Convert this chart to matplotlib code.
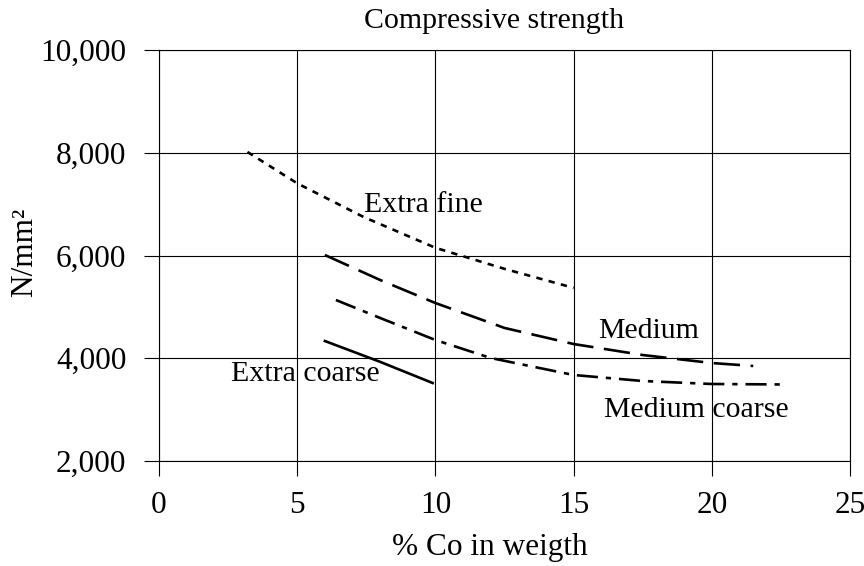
import matplotlib
matplotlib.use("Agg")
import matplotlib.pyplot as plt

plt.rcParams['font.family'] = ['Liberation Serif', 'DejaVu Serif']

# Data
xf_x = [3.2, 5.0, 7.4, 10.0, 12.5, 15.0]
xf_y = [8015, 7405, 6750, 6150, 5740, 5370]

med_x = [6.0, 8.0, 10.0, 12.5, 15.0, 17.5, 20.0, 21.5]
med_y = [6010, 5523, 5075, 4590, 4277, 4063, 3907, 3850]

mc_x = [6.4, 8.0, 10.0, 12.0, 15.0, 17.5, 20.0, 22.5]
mc_y = [5134, 4784, 4355, 4005, 3674, 3557, 3499, 3490]

xc_x = [6.0, 8.0, 9.9]
xc_y = [4336, 3930, 3518]

x_ticks = [0, 5, 10, 15, 20, 25]
y_ticks = [2000, 4000, 6000, 8000, 10000]
y_ticklabels = ["2,000", "4,000", "6,000", "8,000", "10,000"]

fig = plt.figure(figsize=(8.64, 5.66), dpi=100)
ax = fig.add_axes([159/864, 1-461/566, (850-159)/864, (461-50)/566])

lw = 1.9
ax.plot(xf_x, xf_y, color='black', lw=lw, dashes=(2.4, 2.4))
ax.plot(med_x, med_y, color='black', lw=lw, dashes=(10, 4))
ax.plot(mc_x, mc_y, color='black', lw=lw, dashes=(8, 3, 2, 3))
ax.plot(xc_x, xc_y, color='black', lw=lw)

ax.set_xlim(0, 25)
ax.set_ylim(2000, 10000)
ax.set_xticks(x_ticks)
ax.set_yticks(y_ticks)
ax.set_yticklabels(y_ticklabels)
ax.grid(True, color='black', lw=0.8)
for s in ax.spines.values():
    s.set_linewidth(0.8)
ax.tick_params(direction='out', length=11, width=0.8, labelsize=22.5)
ax.tick_params(axis='x', pad=10.5)
ax.tick_params(axis='y', pad=12.5)

fs = 21.5
ax.text(7.4, 6983, "Extra fine", fontsize=fs, va='center', ha='left')
ax.text(15.9, 4530, "Medium", fontsize=fs, va='center', ha='left')
ax.text(16.1, 2993, "Medium coarse", fontsize=fs, va='center', ha='left')
ax.text(2.6, 3693, "Extra coarse", fontsize=fs, va='center', ha='left')

fig.text(494/864, 1-21/566, "Compressive strength", fontsize=21.5, ha='center', va='center')
fig.text(490/864, 1-547/566, "% Co in weigth", fontsize=22.5, ha='center', va='center')
fig.text(25/864, 1-252/566, "N/mm²", fontsize=22.5, ha='center', va='center', rotation=90)

fig.savefig("out.png", dpi=100)
